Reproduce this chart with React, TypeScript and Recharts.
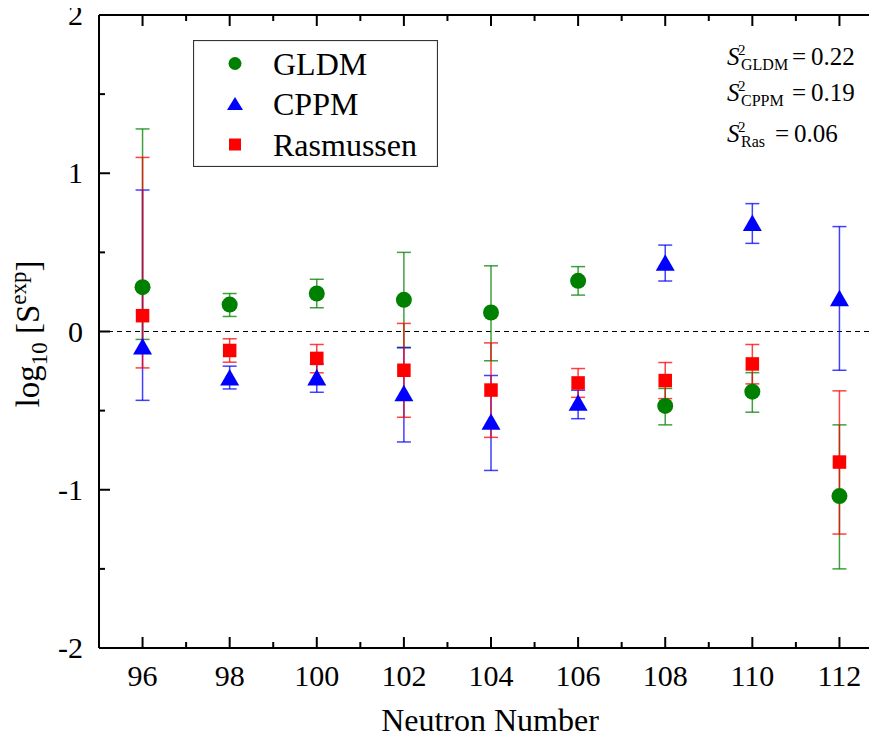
import React from "react";
import {
  ScatterChart,
  Scatter,
  XAxis,
  YAxis,
  ErrorBar,
  ReferenceLine,
  Legend,
} from "recharts";

// neutron numbers on the x axis
const neutrons = [96, 98, 100, 102, 104, 106, 108, 110, 112];

// log10 S values and the ends of their error bars
const gldm = [0.28, 0.17, 0.24, 0.2, 0.12, 0.32, -0.47, -0.38, -1.04];
const gldmLow = [-0.05, 0.095, 0.15, -0.1, -0.185, 0.23, -0.59, -0.51, -1.5];
const gldmHigh = [1.28, 0.24, 0.33, 0.5, 0.415, 0.41, -0.36, -0.26, -0.59];

const cppm = [-0.095, -0.29, -0.29, -0.39, -0.57, -0.45, 0.435, 0.685, 0.21];
const cppmLow = [-0.435, -0.363, -0.384, -0.698, -0.878, -0.551, 0.319, 0.557, -0.245];
const cppmHigh = [0.894, -0.219, -0.205, -0.103, -0.278, -0.371, 0.546, 0.808, 0.663];

const ras = [0.1, -0.12, -0.17, -0.245, -0.37, -0.325, -0.31, -0.205, -0.825];
const rasLow = [-0.23, -0.194, -0.261, -0.542, -0.669, -0.416, -0.424, -0.331, -1.28];
const rasHigh = [1.1, -0.046, -0.082, 0.051, -0.072, -0.234, -0.196, -0.082, -0.375];

const xTicks = [96, 97, 98, 99, 100, 101, 102, 103, 104, 105, 106, 107, 108, 109, 110, 111, 112];
const yTicks = [-2, -1.5, -1, -0.5, 0, 0.5, 1, 1.5, 2];

const stats = [
  { sub: "GLDM", value: "0.22" },
  { sub: "CPPM", value: "0.19" },
  { sub: "Ras", value: "0.06" },
];

const GREEN = "#008000";
const BLUE = "#0000ff";
const RED = "#ff0000";
const FONT = "'Liberation Serif', 'Times New Roman', serif";

// plot frame (chart margins/axis sizes below put the plot area here)
const X_DOMAIN = [95, 113];
const Y_DOMAIN = [-2, 2];
const PLOT_LEFT = 99;
const PLOT_TOP = 15;
const PLOT_RIGHT = 883;
const PLOT_BOTTOM = 648;

const build = (vals: number[], lo: number[], hi: number[]) =>
  neutrons.map((n, i) => ({ x: n, y: vals[i], err: [vals[i] - lo[i], hi[i] - vals[i]] }));

const gldmData = build(gldm, gldmLow, gldmHigh);
const cppmData = build(cppm, cppmLow, cppmHigh);
const rasData = build(ras, rasLow, rasHigh);

const CircleDot = (p: any) => <circle cx={p.cx} cy={p.cy} r={8} fill={GREEN} />;
const TriangleDot = (p: any) => (
  <polygon
    points={`${p.cx},${p.cy - 8.5} ${p.cx - 9.5},${p.cy + 8} ${p.cx + 9.5},${p.cy + 8}`}
    fill={BLUE}
  />
);
const SquareDot = (p: any) => (
  <rect x={p.cx - 6.75} y={p.cy - 6.75} width={13.5} height={13.5} fill={RED} />
);

const BottomTick = (p: any) =>
  p.payload.value % 2 === 0 ? (
    <text x={p.x} y={p.y + 38} textAnchor="middle" fontSize={30} fontFamily={FONT} fill="#000">
      {p.payload.value}
    </text>
  ) : (
    <g />
  );

const LeftTick = (p: any) =>
  Number.isInteger(p.payload.value) ? (
    <text x={p.x - 16} y={p.y + 10} textAnchor="end" fontSize={30} fontFamily={FONT} fill="#000">
      {p.payload.value}
    </text>
  ) : (
    <g />
  );

// inward tick marks on all four sides plus the top / right frame lines
const px = (v: number) =>
  PLOT_LEFT + ((v - X_DOMAIN[0]) / (X_DOMAIN[1] - X_DOMAIN[0])) * (PLOT_RIGHT - PLOT_LEFT);
const py = (v: number) =>
  PLOT_BOTTOM - ((v - Y_DOMAIN[0]) / (Y_DOMAIN[1] - Y_DOMAIN[0])) * (PLOT_BOTTOM - PLOT_TOP);

const Frame = () => (
  <g stroke="#000" strokeWidth={2} fill="none">
    <path d={`M${PLOT_LEFT},${PLOT_TOP}H${PLOT_RIGHT}V${PLOT_BOTTOM}`} />
    {xTicks.map((v) => {
      const len = v % 2 === 0 ? 11 : 6;
      const x = px(v);
      return (
        <g key={`x${v}`}>
          <path d={`M${x},${PLOT_BOTTOM}V${PLOT_BOTTOM - len}`} />
          <path d={`M${x},${PLOT_TOP}V${PLOT_TOP + len}`} />
        </g>
      );
    })}
    {yTicks.map((v) => {
      const len = Number.isInteger(v) ? 11 : 6;
      const y = py(v);
      return (
        <g key={`y${v}`}>
          <path d={`M${PLOT_LEFT},${y}H${PLOT_LEFT + len}`} />
          <path d={`M${PLOT_RIGHT},${y}H${PLOT_RIGHT - len}`} />
        </g>
      );
    })}
  </g>
);

const legendItems = [
  { name: "GLDM", kind: "circle" },
  { name: "CPPM", kind: "triangle" },
  { name: "Rasmussen", kind: "square" },
];

const renderLegend = () => (
  <svg width={245} height={127} style={{ display: "block" }}>
    <rect x={0.5} y={0.5} width={244} height={126} fill="#fff" stroke="#333" strokeWidth={1.2} />
    {legendItems.map((it, i) => {
      const cy = 23.5 + i * 40.5;
      return (
        <g key={it.name}>
          {it.kind === "circle" && <circle cx={42} cy={cy} r={6.5} fill={GREEN} />}
          {it.kind === "triangle" && (
            <polygon points={`42,${cy - 7} 34,${cy + 6} 50,${cy + 6}`} fill={BLUE} />
          )}
          {it.kind === "square" && <rect x={36} y={cy - 6} width={12} height={12} fill={RED} />}
          <text x={80} y={cy + 11} fontSize={32} fontFamily={FONT} fill="#000">
            {it.name}
          </text>
        </g>
      );
    })}
  </svg>
);

const statRows = [65, 101, 142];
const eqX = [792, 792, 775];

export default function App() {
  return (
    <div style={{ position: "relative", width: 877, height: 749, margin: -8, overflow: "hidden" }}>
      <ScatterChart
        width={910}
        height={749}
        margin={{ top: PLOT_TOP, right: 910 - PLOT_RIGHT, bottom: 749 - PLOT_BOTTOM - 101, left: PLOT_LEFT - 99 }}
      >
        <XAxis
          type="number"
          dataKey="x"
          domain={X_DOMAIN}
          ticks={xTicks}
          interval={0}
          tickSize={0}
          tickMargin={0}
          tickLine={false}
          tick={<BottomTick />}
          axisLine={{ stroke: "#000", strokeWidth: 2 }}
          height={101}
        />
        <YAxis
          type="number"
          dataKey="y"
          domain={Y_DOMAIN}
          ticks={yTicks}
          interval={0}
          tickSize={0}
          tickMargin={0}
          tickLine={false}
          tick={<LeftTick />}
          axisLine={{ stroke: "#000", strokeWidth: 2 }}
          width={99}
        />
        <ReferenceLine y={0} stroke="#000" strokeDasharray="5 4" strokeWidth={1.2} />
        <Legend
          layout="vertical"
          align="center"
          verticalAlign="middle"
          content={renderLegend}
          wrapperStyle={{ left: 193, top: 40, width: 245, height: 127 }}
        />
        <Scatter name="GLDM" data={gldmData} shape={CircleDot} isAnimationActive={false}>
          <ErrorBar dataKey="err" direction="y" width={7} stroke={GREEN} strokeWidth={1.5} strokeOpacity={0.75} />
        </Scatter>
        <Scatter name="CPPM" data={cppmData} shape={TriangleDot} isAnimationActive={false}>
          <ErrorBar dataKey="err" direction="y" width={7} stroke={BLUE} strokeWidth={1.5} strokeOpacity={0.75} />
        </Scatter>
        <Scatter name="Rasmussen" data={rasData} shape={SquareDot} isAnimationActive={false}>
          <ErrorBar dataKey="err" direction="y" width={7} stroke={RED} strokeWidth={1.5} strokeOpacity={0.75} />
        </Scatter>
      </ScatterChart>

      <svg
        width={877}
        height={749}
        style={{ position: "absolute", left: 0, top: 0, pointerEvents: "none" }}
        fontFamily={FONT}
      >
        <Frame />
        <text transform="translate(39,334) rotate(-90)" textAnchor="middle" fontSize={33} fill="#000">
          <tspan>log</tspan>
          <tspan fontSize={23} dy={8}>10</tspan>
          <tspan dy={-8}> [S</tspan>
          <tspan fontSize={23} dy={-13}>exp</tspan>
          <tspan dy={13}>]</tspan>
        </text>
        <text x={490} y={731} textAnchor="middle" fontSize={32} fill="#000">
          Neutron Number
        </text>
        {stats.map((s, i) => (
          <g key={s.sub} fill="#000">
            <text x={727} y={statRows[i]} fontSize={25} fontStyle="italic">S</text>
            <text x={738} y={statRows[i] - 10} fontSize={15}>2</text>
            <text x={741} y={statRows[i] + 5} fontSize={16}>{s.sub}</text>
            <text x={eqX[i]} y={statRows[i]} fontSize={25}>=</text>
            <text x={eqX[i] + 19} y={statRows[i]} fontSize={25}>{s.value}</text>
          </g>
        ))}
      </svg>
    </div>
  );
}
